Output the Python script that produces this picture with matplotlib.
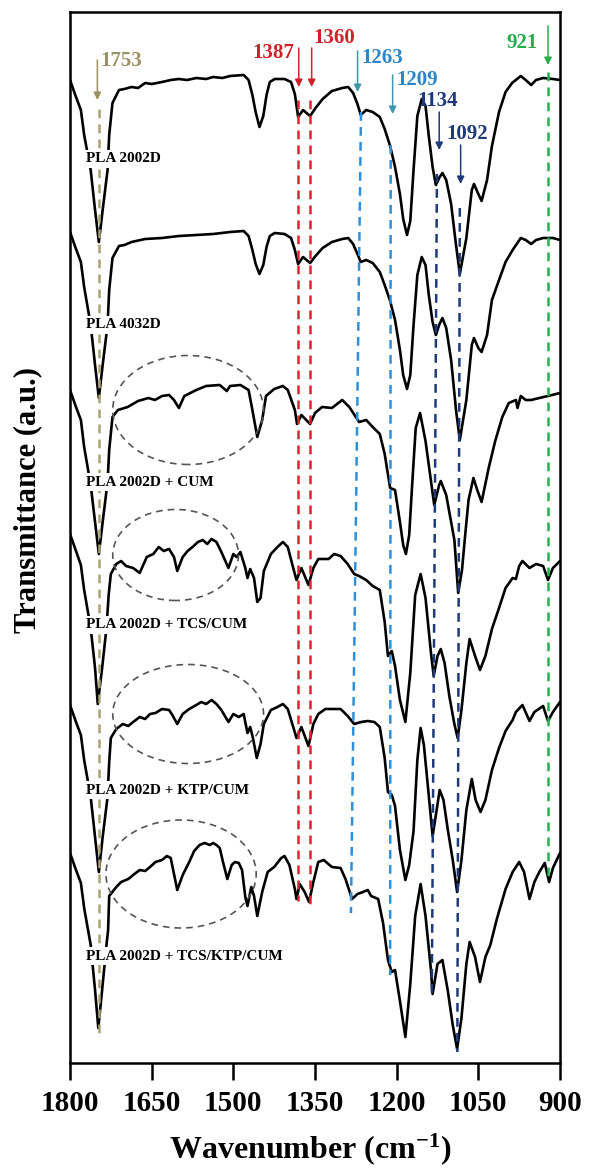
import matplotlib
matplotlib.use('Agg')
import matplotlib.pyplot as plt
from matplotlib.patches import Ellipse

# spectra (wavenumber in cm-1, transmittance in a.u. incl. offset)
wn_2002d = [1800, 1789, 1780, 1774, 1762, 1754, 1747, 1740, 1731, 1728, 1722, 1710, 1700, 1687, 1675, 1662,
            1650, 1631, 1615, 1600, 1585, 1568, 1550, 1537, 1520, 1506, 1481, 1472, 1465, 1459, 1452, 1445,
            1439, 1433, 1424, 1406, 1394, 1387, 1381, 1372, 1359, 1349, 1336, 1319, 1300, 1289, 1280, 1272,
            1266, 1256, 1244, 1231, 1222, 1212, 1203, 1194, 1188, 1181, 1175, 1169, 1162, 1154, 1147, 1141,
            1134, 1128, 1122, 1116, 1109, 1100, 1091, 1084, 1072, 1062, 1058, 1050, 1044, 1034, 1025, 1012,
            1000, 988, 972, 963, 953, 944, 931, 913, 900]
t_2002d = [983, 966, 953, 928, 893, 853, 821, 853, 893, 928, 960, 973, 974, 976, 975, 980,
           979, 981, 983, 984, 983, 985, 984, 986, 985, 987, 988, 983, 968, 951, 936, 947,
           968, 981, 984, 984, 981, 969, 946, 953, 947, 955, 964, 972, 975, 976, 970, 959,
           948, 953, 951, 946, 934, 917, 896, 869, 844, 828, 842, 893, 947, 964, 957, 927,
           896, 878, 885, 890, 883, 859, 818, 789, 825, 873, 879, 869, 862, 883, 917, 951,
           971, 980, 987, 983, 978, 983, 985, 984, 983]

wn_4032d = [1800, 1789, 1780, 1774, 1762, 1754, 1747, 1740, 1731, 1728, 1722, 1710, 1700, 1687, 1662, 1631,
            1600, 1568, 1537, 1506, 1481, 1472, 1465, 1459, 1452, 1445, 1439, 1433, 1424, 1406, 1394, 1387,
            1381, 1372, 1359, 1349, 1336, 1319, 1300, 1289, 1280, 1272, 1266, 1256, 1244, 1231, 1222, 1212,
            1203, 1194, 1188, 1181, 1175, 1169, 1162, 1154, 1147, 1141, 1134, 1128, 1122, 1116, 1109, 1100,
            1091, 1084, 1072, 1062, 1058, 1050, 1044, 1034, 1025, 1012, 1000, 987, 972, 963, 953, 944,
            931, 913, 900]
t_4032d = [831, 814, 801, 776, 738, 698, 665, 698, 738, 773, 805, 817, 818, 821, 824, 825,
           827, 828, 829, 831, 832, 827, 813, 799, 789, 798, 816, 827, 830, 829, 825, 813,
           799, 806, 800, 807, 815, 821, 824, 825, 819, 809, 801, 803, 800, 791, 778, 762,
           743, 713, 688, 674, 688, 738, 788, 806, 798, 768, 741, 728, 738, 745, 735, 703,
           653, 623, 663, 718, 725, 715, 711, 728, 763, 783, 801, 813, 825, 823, 819, 823,
           825, 825, 823]

wn_cum = [1800, 1789, 1780, 1774, 1762, 1754, 1747, 1740, 1731, 1728, 1722, 1712, 1694, 1675, 1656, 1644,
          1631, 1618, 1609, 1600, 1590, 1568, 1550, 1525, 1512, 1506, 1487, 1472, 1465, 1456, 1447, 1440,
          1425, 1409, 1400, 1387, 1383, 1375, 1359, 1350, 1337, 1319, 1300, 1287, 1275, 1269, 1256, 1244,
          1231, 1222, 1212, 1203, 1194, 1188, 1183, 1177, 1171, 1165, 1157, 1147, 1137, 1131, 1122, 1119,
          1109, 1100, 1094, 1087, 1080, 1075, 1068, 1059, 1052, 1044, 1031, 1019, 1006, 994, 981, 978,
          972, 963, 953, 938, 922, 900]
t_cum = [673, 656, 643, 616, 578, 541, 509, 541, 581, 613, 646, 653, 656, 662, 665, 663,
         667, 668, 663, 655, 667, 673, 677, 678, 672, 677, 678, 673, 653, 626, 643, 667,
         674, 677, 673, 653, 639, 648, 639, 650, 656, 655, 663, 656, 646, 641, 643, 636,
         629, 609, 575, 573, 541, 518, 509, 528, 583, 635, 650, 622, 582, 558, 578, 582,
         568, 541, 523, 470, 493, 523, 563, 585, 573, 561, 595, 622, 646, 660, 663, 655,
         667, 663, 663, 665, 667, 670]

wn_tcs = [1800, 1789, 1780, 1774, 1762, 1754, 1749, 1741, 1733, 1729, 1725, 1715, 1706, 1697, 1684, 1672,
          1659, 1647, 1637, 1628, 1618, 1609, 1603, 1593, 1584, 1575, 1565, 1556, 1548, 1540, 1531, 1522,
          1509, 1500, 1494, 1487, 1478, 1474, 1469, 1462, 1456, 1450, 1444, 1431, 1419, 1409, 1400, 1390,
          1384, 1375, 1362, 1353, 1344, 1325, 1315, 1303, 1290, 1278, 1269, 1256, 1244, 1231, 1222, 1216,
          1209, 1203, 1194, 1184, 1175, 1166, 1156, 1147, 1137, 1132, 1125, 1119, 1112, 1103, 1094, 1088,
          1081, 1072, 1066, 1056, 1047, 1037, 1025, 1012, 1000, 987, 981, 975, 969, 956, 944, 931,
          922, 913, 900]
t_tcs = [529, 512, 498, 473, 435, 395, 359, 395, 435, 468, 489, 499, 502, 497, 495, 490,
         506, 509, 516, 512, 514, 506, 492, 506, 512, 516, 521, 523, 519, 524, 521, 511,
         495, 509, 506, 511, 495, 485, 494, 485, 461, 465, 492, 509, 516, 521, 516, 495,
         483, 495, 478, 495, 504, 504, 509, 507, 499, 489, 487, 483, 477, 473, 441, 407,
         412, 397, 363, 341, 390, 468, 489, 465, 410, 387, 407, 414, 400, 366, 339, 325,
         353, 400, 424, 407, 393, 407, 434, 455, 475, 485, 484, 497, 502, 495, 499, 497,
         483, 495, 502]

wn_ktp = [1800, 1789, 1780, 1774, 1762, 1754, 1747, 1740, 1731, 1728, 1725, 1715, 1703, 1693, 1684, 1672,
          1662, 1653, 1643, 1631, 1618, 1612, 1603, 1593, 1581, 1568, 1559, 1550, 1540, 1531, 1522, 1509,
          1500, 1490, 1481, 1474, 1469, 1464, 1457, 1450, 1444, 1431, 1419, 1409, 1400, 1390, 1384, 1375,
          1362, 1353, 1344, 1331, 1319, 1303, 1290, 1278, 1265, 1253, 1241, 1231, 1222, 1216, 1209, 1203,
          1194, 1184, 1177, 1169, 1162, 1156, 1150, 1142, 1134, 1128, 1121, 1114, 1106, 1097, 1089, 1081,
          1072, 1062, 1055, 1046, 1037, 1025, 1012, 1000, 987, 981, 969, 956, 947, 931, 922, 913,
          900]
t_ktp = [358, 341, 328, 303, 266, 226, 191, 226, 266, 301, 325, 334, 339, 337, 341, 346,
         344, 349, 350, 354, 353, 348, 339, 349, 354, 358, 361, 359, 363, 359, 353, 341,
         349, 346, 349, 330, 336, 325, 305, 319, 339, 353, 356, 359, 354, 336, 325, 336,
         317, 339, 349, 354, 354, 354, 347, 339, 341, 342, 341, 336, 305, 271, 268, 257,
         213, 183, 198, 232, 303, 335, 318, 273, 227, 248, 273, 263, 233, 203, 171, 203,
         253, 284, 263, 251, 263, 293, 315, 332, 343, 351, 358, 342, 351, 357, 342, 351,
         361]

wn_tcs_ktp = [1800, 1789, 1780, 1774, 1762, 1754, 1748, 1741, 1733, 1730, 1728, 1715, 1706, 1693, 1684, 1672,
              1662, 1653, 1643, 1631, 1622, 1615, 1603, 1593, 1581, 1572, 1562, 1553, 1543, 1537, 1531, 1525,
              1519, 1511, 1503, 1497, 1490, 1484, 1478, 1474, 1467, 1462, 1456, 1447, 1437, 1425, 1412, 1406,
              1397, 1387, 1384, 1378, 1369, 1361, 1353, 1344, 1334, 1319, 1303, 1294, 1282, 1272, 1262, 1253,
              1247, 1234, 1225, 1216, 1209, 1203, 1194, 1184, 1175, 1166, 1156, 1147, 1137, 1134, 1125, 1116,
              1106, 1097, 1089, 1081, 1072, 1066, 1056, 1047, 1037, 1028, 1016, 1000, 987, 975, 966, 956,
              947, 938, 928, 920, 913, 900]
t_tcs_ktp = [210, 193, 180, 155, 118, 73, 35, 73, 118, 133, 167, 176, 181, 184, 188, 193,
             192, 196, 201, 203, 207, 205, 173, 188, 201, 212, 218, 220, 218, 220, 218, 215,
             201, 184, 198, 201, 200, 193, 166, 157, 176, 167, 147, 171, 191, 196, 205, 207,
             198, 174, 164, 179, 171, 161, 181, 201, 203, 196, 195, 184, 164, 169, 171, 173,
             167, 164, 140, 103, 91, 93, 62, 26, 79, 147, 179, 147, 93, 69, 99, 103,
             72, 38, 14, 45, 99, 121, 106, 81, 106, 118, 144, 174, 191, 201, 191, 164,
             181, 191, 200, 181, 195, 210]

names = ['PLA 2002D', 'PLA 4032D', 'PLA 2002D + CUM', 'PLA 2002D + TCS/CUM',
         'PLA 2002D + KTP/CUM', 'PLA 2002D + TCS/KTP/CUM']
spectra = [(wn_2002d, t_2002d), (wn_4032d, t_4032d), (wn_cum, t_cum),
           (wn_tcs, t_tcs), (wn_ktp, t_ktp), (wn_tcs_ktp, t_tcs_ktp)]
peaks = [1753, 1387, 1360, 1263, 1209, 1134, 1092, 921]
xticks = [1800, 1650, 1500, 1350, 1200, 1050, 900]

plt.rcParams['font.family'] = ['Liberation Serif', 'DejaVu Serif']
plt.rcParams['font.weight'] = 'bold'
plt.rcParams['axes.labelweight'] = 'bold'
plt.rcParams['mathtext.fontset'] = 'custom'
plt.rcParams['mathtext.rm'] = 'Liberation Serif:bold'
plt.rcParams['mathtext.bf'] = 'Liberation Serif:bold'
plt.rcParams['mathtext.default'] = 'bf'

fig = plt.figure(figsize=(5.95, 11.71), dpi=100)
ax = fig.add_axes([70 / 595, 108 / 1171, 490 / 595, 1051 / 1171])

for wn, t in spectra:
    ax.plot(wn, t, color='black', lw=1.9, solid_joinstyle='round', solid_capstyle='round', zorder=2)

# peak guide lines: (top wn, bottom wn), (top y, bottom y), arrow x, arrow (tail, tip), text x, text y, align
line_col = {1753: '#aaa174', 1387: '#d9272c', 1360: '#d9272c', 1263: '#2f8fd8', 1209: '#2f8fd8',
            1134: '#1f3a78', 1092: '#1f3a78', 921: '#25b04e'}
text_col = {1753: '#9a9164', 1387: '#cf2228', 1360: '#cf2228', 1263: '#2a86c9', 1209: '#2a86c9',
            1134: '#1f3a78', 1092: '#1f3a78', 921: '#25ad4d'}
arrow_col = {1753: '#9a9164', 1387: '#cf2228', 1360: '#cf2228', 1263: '#3f97ab', 1209: '#3f97ab',
             1134: '#1f3a78', 1092: '#1f3a78', 921: '#25ad4d'}
guide = {
    1753: ((1746.6, 1746.6), (954, 28), 1749.7, (1003, 963), 1743.4, 1002, 'left'),
    1387: ((1381, 1381), (963, 162), 1379.8, (1015, 976), 1387.3, 1010, 'right'),
    1360: ((1359, 1359), (963, 159), 1356.1, (1015, 976), 1352.9, 1025, 'left'),
    1263: ((1265.5, 1284), (951, 150), 1271.8, (1012, 971), 1265.5, 1005, 'left'),
    1209: ((1211, 1212), (918, 88), 1207.4, (988, 949), 1200, 983, 'left'),
    1134: ((1126, 1135.5), (889, 65), 1121.9, (951, 913), 1161.6, 962, 'left'),
    1092: ((1084, 1088.6), (855, 11), 1082.5, (918, 879), 1109.4, 929, 'left'),
    921: ((922, 922), (991, 184), 922, (1037, 998), 940.6, 1020, 'right'),
}
for p in peaks:
    (xa, xb), (ya, yb), xarr, (ytail, ytip), xt, yt, ha = guide[p]
    ax.plot([xa, xb], [ya, yb], color=line_col[p], lw=1.8, dashes=(3.5, 2.5), zorder=3)
    ax.annotate('', xy=(xarr, ytip), xytext=(xarr, ytail),
                arrowprops=dict(arrowstyle='-|>', color=arrow_col[p], lw=1.1,
                                mutation_scale=11, shrinkA=0, shrinkB=0), zorder=4)
    ax.text(xt, yt, str(p), color=text_col[p], fontsize=15, ha=ha, va='center', zorder=4)

# dashed ellipses round the 1700-1480 region
for (cx, cy, w, h) in [(1583, 653, 277, 109), (1606, 508, 231, 91),
                       (1583, 349, 277, 99), (1596, 189, 276, 108)]:
    ax.add_patch(Ellipse((cx, cy), w, h, fill=False, edgecolor='#555555', lw=1.2,
                         linestyle=(0, (4, 3)), zorder=3))

label_y = [904, 738, 581, 438, 273, 107]
for name, y in zip(names, label_y):
    ax.text(1771.5, y, name, fontsize=11, ha='left', va='center', zorder=6,
            bbox=dict(facecolor='white', edgecolor='none', pad=1.5))

ax.set_xlim(1800, 900)
ax.set_ylim(0, 1051)
ax.set_xticks(xticks)
ax.set_xticklabels([str(v) for v in xticks])
ax.set_yticks([])
ax.tick_params(axis='x', direction='out', length=12.5, width=1.8, labelsize=21, pad=7)
for s in ax.spines.values():
    s.set_linewidth(1.8)

ax.set_xlabel(r'Wavenumber (cm$^{-1}$)', fontsize=23, fontweight='bold')
ax.xaxis.label.set_va('center')
ax.xaxis.set_label_coords(0.49, -0.082)
ax.set_ylabel('Transmittance (a.u.)', fontsize=22, fontweight='bold')
ax.yaxis.label.set_va('center')
ax.yaxis.set_label_coords(-0.086, 0.536)

fig.savefig('out.png', dpi=100)
